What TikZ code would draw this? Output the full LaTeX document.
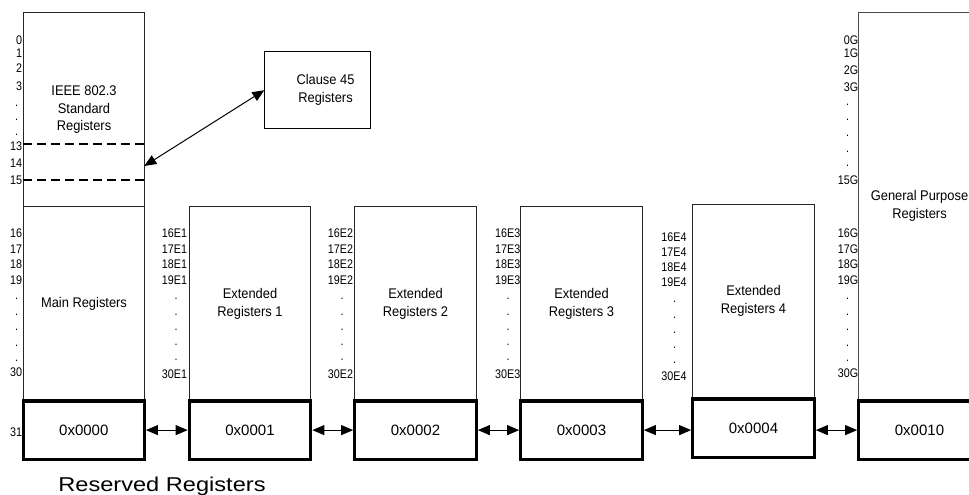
\documentclass[tikz,border=0pt]{standalone}
\usepackage{fontspec}
\setmainfont{Liberation Sans}
\newfontfamily\lblfont[FakeStretch=0.86]{Liberation Sans}
\newfontfamily\boxfont[FakeStretch=0.92]{Liberation Sans}
\newfontfamily\resfont[FakeStretch=1.18]{Liberation Sans}
\usetikzlibrary{arrows.meta,calc}
\begin{document}
\begin{tikzpicture}[x=1pt,y=-1pt,
  thinbox/.style={draw=black!85,line width=0.9pt,inner sep=0pt,outer sep=0pt},
  resbox/.style={draw=black,line width=3.2pt,inner sep=0pt,outer sep=0pt,minimum width=121.5pt,font=\fontsize{15}{18}\selectfont},
  boxtxt/.style={align=center,inner sep=0pt,font=\boxfont\fontsize{14}{17.5}\selectfont},
  lbl/.style={anchor=base east,inner sep=0pt,font=\lblfont\fontsize{12.5}{13}\selectfont},
  dotlbl/.style={anchor=base,inner sep=0pt,font=\lblfont\fontsize{12.5}{13}\selectfont},
  dbl/.style={{Triangle[length=12pt,width=10pt]}-{Triangle[length=12pt,width=10pt]},line width=1pt},
  dashsep/.style={line width=2.5pt,dash pattern=on 9pt off 5pt},
]
\useasboundingbox (0,0) rectangle (969,495);

% main column
\node[thinbox,minimum width=121pt,minimum height=194.4pt] (mainup) at (83.8,109.5) {};
\node[thinbox,minimum width=121pt,minimum height=194.3pt] (mainlow) at (83.8,303.85) {};
\node[resbox,minimum width=121pt,minimum height=58.2pt] (res0) at (83.8,430.1) {0x0000};
\draw[dashsep] (mainup.west |- 0,144) -- (mainup.east |- 0,144);
\draw[dashsep] (mainup.west |- 0,180) -- (mainup.east |- 0,180);
\node[boxtxt] (ieeetxt) at (84,110) {IEEE 802.3\\Standard\\Registers};
\node[boxtxt] (maintxt) at (84,304) {Main Registers};

% extended columns
\node[thinbox,minimum width=121.5pt,minimum height=194.3pt] (ext1) at (250,303.85) {};
\node[resbox,minimum height=58.2pt] (res1) at (250,430.1) {0x0001};
\node[boxtxt] (e1txt) at (250,304) {Extended\\Registers 1};

\node[thinbox,minimum width=121.5pt,minimum height=194.3pt] (ext2) at (415.5,303.85) {};
\node[resbox,minimum height=58.2pt] (res2) at (415.5,430.1) {0x0002};
\node[boxtxt] (e2txt) at (415.5,304) {Extended\\Registers 2};

\node[thinbox,minimum width=121.5pt,minimum height=194.3pt] (ext3) at (581.5,303.85) {};
\node[resbox,minimum height=58.2pt] (res3) at (581.5,430.1) {0x0003};
\node[boxtxt] (e3txt) at (581.5,304) {Extended\\Registers 3};

\node[thinbox,minimum width=121.5pt,minimum height=194.3pt] (ext4) at (753.5,301.85) {};
\node[resbox,minimum height=58.7pt] (res4) at (753.5,428.35) {0x0004};
\node[boxtxt] (e4txt) at (753.5,301) {Extended\\Registers 4};

% general purpose column
\node[thinbox,draw=black!70,minimum width=121.5pt,minimum height=388.3pt] (gp) at (919.5,206.85) {};
\node[resbox,minimum height=58.2pt] (resg) at (919.5,430.1) {0x0010};
\node[boxtxt] (gptxt) at (919.5,206) {General Purpose\\Registers};

% clause 45
\node[thinbox,draw=black,minimum width=105.7pt,minimum height=77pt] (clause) at (317.2,90.2) {};
\node[boxtxt] (clausetxt) at (325.5,89.7) {Clause 45\\Registers};
\coordinate (c45from) at (mainup.east |- 0,166);
\draw[dbl] (c45from) -- (clause.west);

% arrows between reserved boxes
\draw[dbl,shorten <=1.6pt,shorten >=1.6pt] (res0.east) -- (res1.west);
\draw[dbl,shorten <=1.6pt,shorten >=1.6pt] (res1.east) -- (res2.west);
\draw[dbl,shorten <=1.6pt,shorten >=1.6pt] (res2.east) -- (res3.west);
\draw[dbl,shorten <=1.6pt,shorten >=1.6pt] (res3.east) -- (res3.east -| res4.west);
\draw[dbl,shorten <=1.6pt,shorten >=1.6pt] (resg.west -| res4.east) -- (resg.west);

% labels: main column
\foreach \t/\y [count=\i] in {0/40,1/53.3,2/68.3,3/86,13/146,14/163.3,15/180}
  \node[lbl] (mu\i) at (22.3,{\y+4.4}) {\t};
\foreach \y [count=\i] in {106,119.3,135}
  \node[dotlbl] (mud\i) at (16.5,{\y+0.9}) {.};
\foreach \t/\y [count=\i] in {16/233.3,17/249,18/264,19/280,30/372.3,31/431.7}
  \node[lbl] (ml\i) at (22.3,{\y+4.4}) {\t};
\foreach \y [count=\i] in {299,315,330,345.7,361}
  \node[dotlbl] (mld\i) at (16.5,{\y+0.9}) {.};

% labels: extended 1-3
\foreach \k/\xr/\xd in {1/187.3/176,2/353.3/342,3/520.5/508}{
  \foreach \n/\y [count=\i] in {16/233.3,17/249,18/264,19/280,30/374.3}
    \node[lbl] (e\k l\i) at (\xr,{\y+4.4}) {\n E\k};
  \foreach \y [count=\i] in {298.3,315,330,345,360}
    \node[dotlbl] (e\k d\i) at (\xd,{\y+0.9}) {.};
}
% labels: extended 4
\foreach \n/\y [count=\i] in {16/236.7,17/252.3,18/267.3,19/282.3,30/376}
  \node[lbl] (e4l\i) at (686.7,{\y+4.4}) {\n E4};
\foreach \y [count=\i] in {301.7,317.7,332.7,347.7,363}
  \node[dotlbl] (e4d\i) at (674.5,{\y+0.9}) {.};

% labels: general purpose
\foreach \t/\y [count=\i] in {0/40,1/53.3,2/70,3/87.3,15/180,16/233.3,17/249,18/264,19/280,30/372.7}
  \node[lbl] (g\i) at (858.5,{\y+4.4}) {\t G};
\foreach \y [count=\i] in {105,120,136,151.7,165.7,298.3,315,329.3,345.7,361}
  \node[dotlbl] (gd\i) at (847.7,{\y+0.9}) {.};

% caption
\node[anchor=base,inner sep=0pt,font=\resfont\fontsize{20}{22}\selectfont] (restitle) at (162,491.5) {Reserved Registers};
\end{tikzpicture}
\end{document}
